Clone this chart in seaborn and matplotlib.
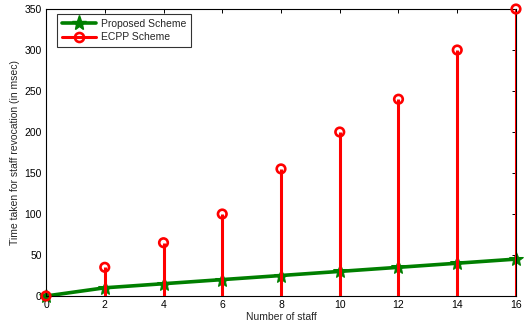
import matplotlib
matplotlib.use("Agg")
import matplotlib.pyplot as plt
import seaborn as sns
import pandas as pd
from matplotlib.lines import Line2D

staff = [0, 2, 4, 6, 8, 10, 12, 14, 16]
proposed = [0, 10, 15, 20, 25, 30, 35, 40, 45]
ecpp = [0, 35, 65, 100, 155, 200, 240, 300, 350]
x_ticks = [0, 2, 4, 6, 8, 10, 12, 14, 16]
y_ticks = [0, 50, 100, 150, 200, 250, 300, 350]

sns.set_style("white")
plt.rcParams["font.family"] = ["Liberation Sans", "DejaVu Sans"]

df = pd.DataFrame({"staff": staff, "proposed": proposed, "ecpp": ecpp})

fig = plt.figure(figsize=(5.24, 3.29), dpi=100)
ax = fig.add_axes([0.0878, 0.1003, 0.8969, 0.8723])

green = "#007f00"
red = "#ff0000"

# Proposed scheme line (drawn beneath the stems)
sns.lineplot(data=df, x="staff", y="proposed", ax=ax, color=green,
             linewidth=2.6, marker="*", markersize=10, markeredgecolor=green,
             zorder=2, clip_on=False)

# ECPP stems with open circle heads
ax.vlines(df["staff"], 0, df["ecpp"], color=red, linewidth=2.2, zorder=3)
sns.scatterplot(data=df, x="staff", y="ecpp", ax=ax, marker="o", s=38,
                facecolor="none", edgecolor=red, linewidth=1.9, zorder=4,
                clip_on=False)

ax.set_xlim(0, 16)
ax.set_ylim(0, 350)
ax.set_xticks(x_ticks)
ax.set_yticks(y_ticks)
ax.tick_params(direction="in", length=3, width=0.7, top=True, right=True,
               labelsize=7.5, pad=3, colors="black")
for sp in ax.spines.values():
    sp.set_visible(True)
    sp.set_color("black")
    sp.set_linewidth(0.8)

ax.set_xlabel("Number of staff", fontsize=7.5, labelpad=1)
ax.set_ylabel("Time taken for staff revocation (in msec)", fontsize=7.5, labelpad=3)

handles = [
    Line2D([], [], color=green, linewidth=2.6, marker="*", markersize=11,
           markeredgecolor=green),
    Line2D([], [], color=red, linewidth=2.2, marker="o", markersize=6.5,
           markerfacecolor="none", markeredgecolor=red, markeredgewidth=1.9),
]
leg = ax.legend(handles, ["Proposed Scheme", "ECPP Scheme"], loc="upper left",
                bbox_to_anchor=(0.0234, 0.9826), fontsize=7.5, frameon=True,
                fancybox=False, edgecolor="black", handlelength=3.3,
                borderpad=0.45, labelspacing=0.35, handletextpad=0.5,
                borderaxespad=0)
leg.get_frame().set_linewidth(0.8)

fig.savefig("out.png", dpi=100)
